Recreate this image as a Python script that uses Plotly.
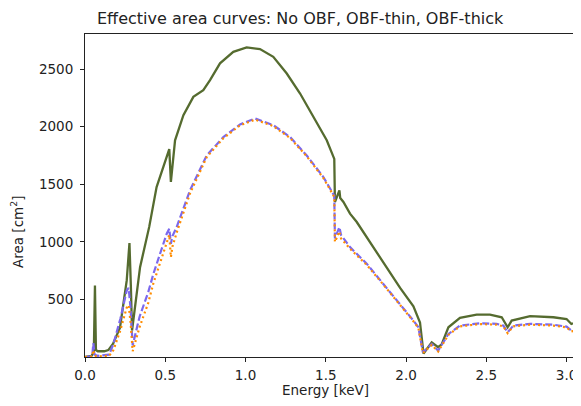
import plotly.graph_objects as go

# ---- data ----
energy_none = [0.0, 0.04, 0.055, 0.062, 0.068, 0.08, 0.12, 0.145, 0.175, 0.218, 0.26, 0.277,
               0.286, 0.293, 0.343, 0.394, 0.40, 0.446, 0.49, 0.525, 0.535, 0.545, 0.561, 0.613,
               0.675, 0.737, 0.779, 0.841, 0.924, 1.007, 1.09, 1.173, 1.257, 1.34, 1.423, 1.506,
               1.553, 1.557, 1.585, 1.59, 1.61, 1.651, 1.693, 1.755, 1.859, 1.963, 2.046, 2.087,
               2.109, 2.16, 2.20, 2.222, 2.264, 2.336, 2.44, 2.523, 2.596, 2.633, 2.658, 2.773,
               2.918, 3.0, 3.03, 3.09]
area_none = [0, 10, 40, 620, 60, 50, 50, 60, 115, 255, 665, 990,
             600, 230, 780, 1100, 1130, 1476, 1660, 1805, 1520, 1680, 1882, 2100,
             2259, 2317, 2404, 2550, 2650, 2689, 2674, 2607, 2462, 2288, 2085, 1882,
             1720, 1346, 1447, 1380, 1346, 1245, 1172, 1041, 820, 600, 440, 300,
             30, 127, 85, 110, 258, 340, 368, 368, 345, 258, 316, 355,
             345, 330, 287, 315]

energy_thin = [0.0, 0.045, 0.052, 0.06, 0.08, 0.15, 0.177, 0.22, 0.26, 0.272, 0.284, 0.297,
               0.34, 0.394, 0.426, 0.509, 0.525, 0.535, 0.545, 0.571, 0.654, 0.758, 0.862,
               0.966, 1.06, 1.173, 1.277, 1.38, 1.485, 1.553, 1.557, 1.585, 1.595, 1.651,
               1.755, 1.859, 1.963, 2.046, 2.077, 2.105, 2.16, 2.20, 2.264, 2.336, 2.461,
               2.565, 2.606, 2.633, 2.669, 2.773, 2.918, 3.0, 3.03, 3.09]
area_thin = [0, 5, 120, 20, 10, 20, 113, 330, 577, 600, 420, 100,
             350, 563, 722, 1070, 1114, 983, 1050, 1128, 1447, 1750, 1910,
             2020, 2071, 2013, 1911, 1752, 1563, 1400, 1030, 1128, 1060, 954,
             810, 636, 462, 316, 258, 40, 113, 55, 200, 273, 293,
             288, 273, 215, 273, 288, 280, 264, 229, 250]

energy_thick = energy_thin
area_thick = [0, 3, 60, 10, 5, 10, 60, 230, 430, 450, 300, 50,
              260, 470, 640, 1000, 1060, 867, 960, 1080, 1420, 1735, 1900,
              2012, 2062, 2005, 1903, 1745, 1555, 1390, 1000, 1090, 1030, 940,
              800, 628, 455, 310, 252, 35, 105, 48, 192, 266, 286,
              281, 266, 208, 266, 281, 273, 257, 222, 243]

x_ticks = [0.0, 0.5, 1.0, 1.5, 2.0, 2.5, 3.0]
y_ticks = [500, 1000, 1500, 2000, 2500]

FONT = "DejaVu Sans"
OFF = 8  # page body margin offset of the figure div
W, H = 581 - OFF, 406 - OFF
# target plot area in window pixels: x 85..581, y 34..357
L, R, T = 85 - OFF, 0, 34 - OFF
B = H - (357 - OFF)
PW, PH = W - L - R, H - T - B


def px(xp):  # window pixel -> paper
    return (xp - OFF - L) / PW


def py(yp):
    return (H - B - (yp - OFF)) / PH


fig = go.Figure()
fig.add_trace(go.Scatter(x=energy_none, y=area_none, mode="lines", name="No OBF",
                         line=dict(color="#556b2f", width=2.3)))
fig.add_trace(go.Scatter(x=energy_thin, y=area_thin, mode="lines", name="OBF-thin",
                         line=dict(color="#7b68ee", width=2.2, dash="7px,3px")))
fig.add_trace(go.Scatter(x=energy_thick, y=area_thick, mode="lines", name="OBF-thick",
                         line=dict(color="#ff8c00", width=2.2, dash="2px,3px")))

fig.update_layout(
    width=W, height=H,
    margin=dict(l=L, r=R, t=T, b=B, pad=0),
    paper_bgcolor="white", plot_bgcolor="white",
    showlegend=False,
    font=dict(family=FONT, size=13.5, color="#222"),
    annotations=[
        dict(text="Effective area curves: No OBF, OBF-thin, OBF-thick", xref="paper", yref="paper",
             x=px(300), y=py(19), xanchor="center", yanchor="middle", showarrow=False,
             font=dict(family=FONT, size=16, color="#222")),
        dict(text="Energy [keV]", xref="paper", yref="paper",
             x=px(325), y=py(390), xanchor="center", yanchor="middle", showarrow=False,
             font=dict(family=FONT, size=13.5, color="#222")),
        dict(text="Area [cm<sup>2</sup>]", xref="paper", yref="paper", textangle=-90,
             x=px(17), y=py(232), xanchor="center", yanchor="middle", showarrow=False,
             font=dict(family=FONT, size=13.5, color="#222")),
    ],
)
fig.update_xaxes(range=[0, 3.09], tickvals=x_ticks, ticktext=[f"{v:.1f}" for v in x_ticks],
                 showgrid=False, zeroline=False, showline=True, linecolor="#222", linewidth=1,
                 mirror=True, ticks="outside", ticklen=4, tickcolor="#222", tickwidth=1,
                 ticklabelstandoff=2)
fig.update_yaxes(range=[0, 2805], tickvals=y_ticks, ticktext=[str(v) for v in y_ticks],
                 showgrid=False, zeroline=False, showline=True, linecolor="#222", linewidth=1,
                 ticks="outside", ticklen=4, tickcolor="#222", tickwidth=1,
                 ticklabelstandoff=4)

fig.write_html("out.html")
